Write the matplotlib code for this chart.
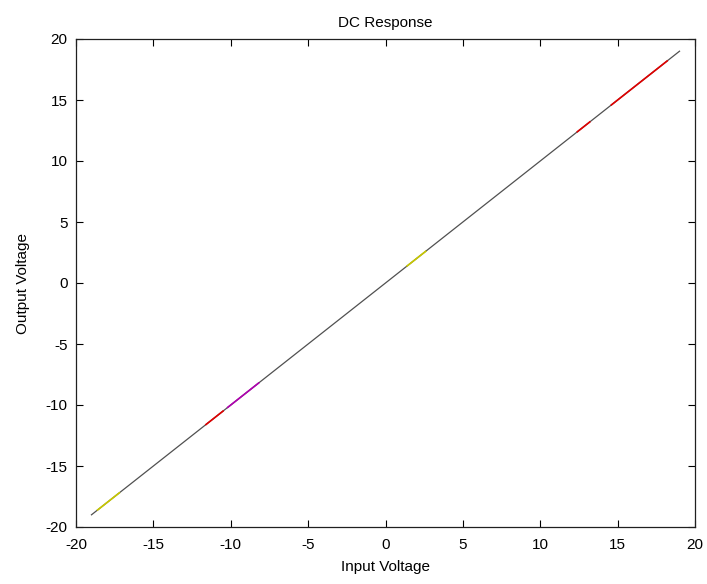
import matplotlib
matplotlib.use("Agg")
import matplotlib.pyplot as plt

plt.rcParams['font.family'] = ['Liberation Sans', 'DejaVu Sans']
plt.rcParams['axes.unicode_minus'] = False

# Main DC sweep (input -> output)
vin = [-19, -15, -10, -5, 0, 5, 10, 15, 19]
vout = [-19, -15, -10, -5, 0, 5, 10, 15, 19]

# Coloured overlay segments
seg_yellow1_in = [-18.6, -17.2]
seg_yellow1_out = [-18.6, -17.2]
seg_red1_in = [-11.6, -10.5]
seg_red1_out = [-11.6, -10.5]
seg_mag_in = [-10.2, -8.2]
seg_mag_out = [-10.2, -8.2]
seg_yellow2_in = [1.4, 2.6]
seg_yellow2_out = [1.4, 2.6]
seg_red2_in = [12.4, 13.2]
seg_red2_out = [12.4, 13.2]
seg_red3_in = [14.6, 18.2]
seg_red3_out = [14.6, 18.2]

xticks = [-20, -15, -10, -5, 0, 5, 10, 15, 20]
yticks = [-20, -15, -10, -5, 0, 5, 10, 15, 20]

fig = plt.figure(figsize=(7.07, 5.84), dpi=100)
ax = fig.add_axes([76/707, 1-527/584, (695-76)/707, (527-39)/584])

ax.plot(vin, vout, color='#505050', lw=0.9, zorder=2)
ax.plot(seg_yellow1_in, seg_yellow1_out, color='#c8c800', lw=1.2, zorder=3)
ax.plot(seg_red1_in, seg_red1_out, color='#e00000', lw=1.2, zorder=3)
ax.plot(seg_mag_in, seg_mag_out, color='#b000b0', lw=1.2, zorder=3)
ax.plot(seg_yellow2_in, seg_yellow2_out, color='#c8c800', lw=1.2, zorder=3)
ax.plot(seg_red2_in, seg_red2_out, color='#e00000', lw=1.2, zorder=3)
ax.plot(seg_red3_in, seg_red3_out, color='#e00000', lw=1.2, zorder=3)

ax.set_xlim(-20, 20)
ax.set_ylim(-20, 20)
ax.set_xticks(xticks)
ax.set_yticks(yticks)
ax.tick_params(direction='in', top=True, right=True, labelsize=11, length=5, width=0.8)
ax.tick_params(axis='x', pad=8)
ax.tick_params(axis='y', pad=6)
for s in ax.spines.values():
    s.set_linewidth(0.9)
    s.set_color('#202020')

ax.set_title('DC Response', fontsize=11, pad=9)
ax.set_xlabel('Input Voltage', fontsize=11, labelpad=6)
ax.set_ylabel('Output Voltage', fontsize=11, labelpad=11)

fig.savefig('out.png', dpi=100)
